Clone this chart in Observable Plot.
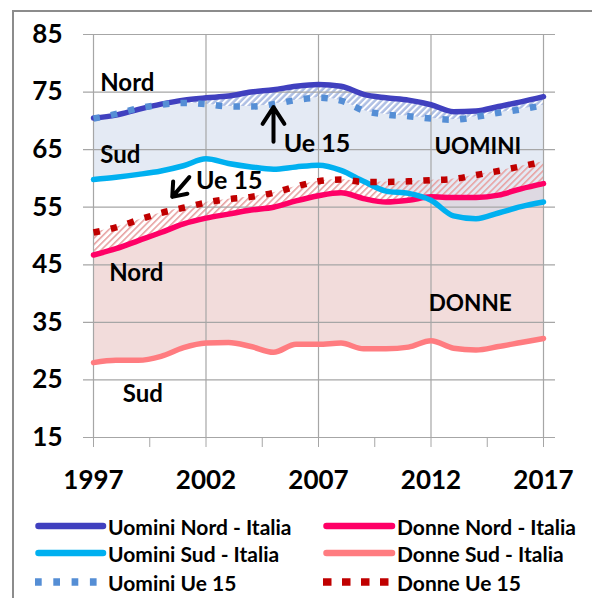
<!DOCTYPE html>
<html>
<head>
<meta charset="utf-8">
<script src="https://cdn.jsdelivr.net/npm/d3@7"></script>
<script src="https://cdn.jsdelivr.net/npm/@observablehq/plot@0.6"></script>
<style>
  body { margin: 0; background: #fff; }
  #wrap { position: relative; width: 592px; height: 598px; overflow: hidden; font-family: Lato, "Open Sans", sans-serif; }
  #frame { position: absolute; left: 12px; top: 10px; width: 620px; height: 620px; border-left: 2px solid #8c8c8c; border-top: 2px solid #8c8c8c; }
  #chart { position: absolute; left: 0; top: 0; }
  #chart svg { overflow: visible; }
  #chart g[aria-label="x-axis tick"] { stroke: #a6a6a6; color: #a6a6a6; }
  .item { position: absolute; height: 26px; display: flex; align-items: center; font-weight: bold; font-size: 21px; color: #000; white-space: nowrap; }
  .item svg { display: block; }
</style>
</head>
<body>
<div id="wrap">
  <div id="frame"></div>
  <div id="chart"></div>
  <div id="legend"></div>
</div>
<script>
// ---- data ----
const years = [1997, 1998, 1999, 2000, 2001, 2002, 2003, 2004, 2005, 2006, 2007,
               2008, 2009, 2010, 2011, 2012, 2013, 2014, 2015, 2016, 2017];
const uominiNord = [70.5, 71.0, 72.0, 72.9, 73.6, 74.0, 74.3, 75.0, 75.4, 76.0, 76.3,
                    76.0, 74.6, 74.0, 73.6, 72.8, 71.6, 71.7, 72.5, 73.3, 74.2];
const uominiSud  = [59.8, 60.2, 60.7, 61.3, 62.2, 63.4, 62.6, 62.0, 61.6, 62.0, 62.3,
                    61.4, 59.5, 57.8, 57.4, 56.2, 53.5, 53.0, 54.0, 55.1, 55.9];
const uominiUe15 = [70.4, 71.2, 72.2, 72.8, 73.1, 72.9, 72.5, 72.5, 72.9, 73.6, 74.0,
                    73.5, 71.8, 71.1, 70.8, 70.4, 70.2, 70.7, 71.4, 72.0, 72.7];
const donneNord  = [46.7, 47.8, 49.2, 50.6, 52.1, 53.1, 53.8, 54.5, 55.0, 56.1, 57.0,
                    57.5, 56.5, 55.9, 56.2, 56.8, 56.7, 56.7, 57.1, 58.2, 59.1];
const donneSud   = [28.0, 28.4, 28.4, 29.1, 30.6, 31.4, 31.5, 30.8, 29.8, 31.2, 31.2,
                    31.4, 30.4, 30.4, 30.7, 31.8, 30.5, 30.2, 30.8, 31.5, 32.2];
const donneUe15  = [50.6, 51.5, 52.8, 54.0, 54.9, 55.8, 56.4, 56.8, 57.5, 58.6, 59.5,
                    59.8, 59.4, 59.4, 59.5, 59.7, 59.9, 60.6, 61.3, 62.1, 62.9];

const yTicks = [15, 25, 35, 45, 55, 65, 75, 85];
const xLabels = [1997, 2002, 2007, 2012, 2017];
const xMinorTicks = [1997, 1999.5, 2002, 2004.5, 2007, 2009.5, 2012, 2014.5, 2017];

const seriesNames = ["Uomini Nord - Italia", "Donne Nord - Italia", "Uomini Sud - Italia",
                     "Donne Sud - Italia", "Uomini Ue 15", "Donne Ue 15"];

// annotation texts (data coordinates)
const annotations = [
  {text: "Nord",   x: 1997.3, y: 76.6, size: 24},
  {text: "Sud",    x: 1997.3, y: 64.0, size: 24},
  {text: "Ue 15",  x: 2005.45, y: 65.9, size: 25},
  {text: "Ue 15",  x: 2001.55, y: 59.5, size: 25},
  {text: "UOMINI", x: 2012.15, y: 65.5, size: 22.5},
  {text: "Nord",   x: 1997.7, y: 43.5, size: 24},
  {text: "DONNE",  x: 2011.9, y: 38.2, size: 22.5},
  {text: "Sud",    x: 1998.3, y: 22.5, size: 24}
];
const arrowUp   = [{x1: 2005.0, y1: 60.3, x2: 2005.0, y2: 72.4}];
const arrowDown = [{x1: 2002.16, y1: 64.3, x2: 2000.5, y2: 56.8}];

// ---- build ----
const table = years.map((year, i) => ({
  year, un: uominiNord[i], us: uominiSud[i], ue: uominiUe15[i],
  dn: donneNord[i], ds: donneSud[i], de: donneUe15[i]
}));

const C = {
  un: "#4040bf", us: "#00b0f0", ue: "#558ed5",
  dn: "#ff0066", ds: "#ff7c80", de: "#c00000"
};
const curve = "monotone-x";

const plot = Plot.plot({
  width: 592,
  height: 505,
  marginLeft: 93,
  marginRight: 49,
  marginTop: 34,
  marginBottom: 68,
  style: {fontFamily: "Lato, 'Open Sans', sans-serif", fontSize: "26px", fontWeight: "bold", color: "#000", background: "transparent", overflow: "visible"},
  x: {domain: [1997, 2017], ticks: xMinorTicks, tickFormat: d => xLabels.includes(d) ? String(d) : "", tickSize: 10, tickPadding: 23, label: null},
  y: {domain: [15, 85], ticks: yTicks, tickSize: 0, tickPadding: 31, label: null},
  marks: [
    Plot.areaY(table, {x: "year", y1: "ds", y2: "dn", fill: "#f2dcdb", curve}),
    Plot.areaY(table, {x: "year", y1: "us", y2: "ue", fill: "#c9d5e9", fillOpacity: 0.5, curve}),
    Plot.areaY(table, {x: "year", y1: "dn", y2: "de", fill: "url(#hatchF)", curve}),
    Plot.areaY(table, {x: "year", y1: "ue", y2: "un", fill: "url(#hatchM)", curve}),
    Plot.ruleY(yTicks, {stroke: "#a6a6a6", strokeWidth: 1.2, insetLeft: -10, insetRight: -12}),
    Plot.ruleX(xLabels, {stroke: "#a6a6a6", strokeWidth: 1.2}),
    Plot.line(table, {x: "year", y: "ds", stroke: C.ds, strokeWidth: 5.5, curve}),
    Plot.line(table, {x: "year", y: "dn", stroke: C.dn, strokeWidth: 5.5, curve}),
    Plot.line(table, {x: "year", y: "us", stroke: C.us, strokeWidth: 5.5, curve}),
    Plot.line(table, {x: "year", y: "un", stroke: C.un, strokeWidth: 5.5, curve}),
    Plot.line(table, {x: "year", y: "ue", stroke: C.ue, strokeWidth: 6.5, strokeDasharray: "6.5 11.2", strokeLinecap: "butt", curve}),
    Plot.line(table, {x: "year", y: "de", stroke: C.de, strokeWidth: 6.5, strokeDasharray: "6.5 11.2", strokeLinecap: "butt", curve}),
    Plot.text(annotations, {x: "x", y: "y", text: "text", fontSize: d => d.size, textAnchor: "start", fontWeight: "bold", fill: "#000"}),
    Plot.arrow(arrowUp, {x1: "x1", y1: "y1", x2: "x2", y2: "y2", stroke: "#000", strokeWidth: 4, headLength: 7.5, headAngle: 66, insetStart: 35}),
    Plot.arrow(arrowDown, {x1: "x1", y1: "y1", x2: "x2", y2: "y2", stroke: "#000", strokeWidth: 4, headLength: 5.8, headAngle: 75, insetStart: 31})
  ]
});

document.getElementById("chart").appendChild(plot);

// hatch patterns
const svg = d3.select(plot);
const defs = svg.insert("defs", ":first-child");
const pm = defs.append("pattern").attr("id", "hatchM").attr("patternUnits", "userSpaceOnUse")
  .attr("width", 4.5).attr("height", 4.5).attr("patternTransform", "rotate(45)");
pm.append("rect").attr("width", 4.5).attr("height", 4.5).attr("fill", "#aebfe4");
pm.append("rect").attr("width", 2).attr("height", 4.5).attr("fill", "#ffffff");
const pf = defs.append("pattern").attr("id", "hatchF").attr("patternUnits", "userSpaceOnUse")
  .attr("width", 4.5).attr("height", 4.5).attr("patternTransform", "rotate(45)");
pf.append("rect").attr("width", 1.6).attr("height", 4.5).attr("fill", "#e8a3a3");

// ---- legend ----
const legendItems = [
  {name: seriesNames[0], color: C.un, dash: null, left: 35, top: 526, w: 73},
  {name: seriesNames[1], color: C.dn, dash: null, left: 323, top: 526, w: 74},
  {name: seriesNames[2], color: C.us, dash: null, left: 35, top: 553, w: 73},
  {name: seriesNames[3], color: C.ds, dash: null, left: 323, top: 553, w: 74},
  {name: seriesNames[4], color: C.ue, dash: "6.7 11.6", left: 35, top: 582, w: 73},
  {name: seriesNames[5], color: C.de, dash: "8.5 10.5", left: 323, top: 582, w: 74}
];
const legend = d3.select("#legend");
for (const it of legendItems) {
  const div = legend.append("div").attr("class", "item")
    .style("left", it.left + "px").style("top", (it.top - 13) + "px");
  const s = div.append("svg").attr("width", it.w).attr("height", 12);
  if (it.dash) {
    s.append("line").attr("x1", 0).attr("x2", it.w - 8).attr("y1", 6).attr("y2", 6)
      .attr("stroke", it.color).attr("stroke-width", 7.5).attr("stroke-dasharray", it.dash);
  } else {
    s.append("line").attr("x1", 3.5).attr("x2", it.w - 5).attr("y1", 6).attr("y2", 6)
      .attr("stroke", it.color).attr("stroke-width", 6.5).attr("stroke-linecap", "round");
  }
  div.append("span").text(it.name);
}
</script>
</body>
</html>
